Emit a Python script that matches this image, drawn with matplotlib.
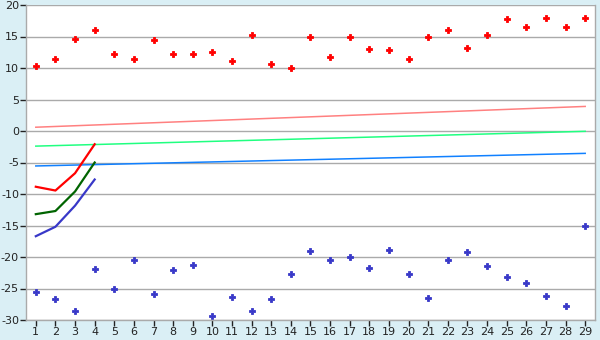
import matplotlib.pyplot as plt

plt.rcParams['axes.unicode_minus'] = False

# categories on the x axis
days = list(range(1, 30))

# scatter series
red_pts = [10.3, 11.5, 14.6, 16.0, 12.2, 11.5, 14.4, 12.3, 12.2, 12.5,
           11.1, 15.2, 10.6, 9.95, 14.9, 11.7, 14.9, 13.0, 12.8, 11.5,
           15.0, 16.1, 13.1, 15.2, 17.7, 16.5, 17.9, 16.5, 17.9]
blue_pts = [-25.6, -26.7, -28.6, -21.95, -25.1, -20.5, -25.9, -22.1, -21.3, -29.4,
            -26.4, -28.5, -26.7, -22.75, -19.1, -20.5, -20.05, -21.8, -18.95, -22.75,
            -26.55, -20.5, -19.25, -21.5, -23.2, -24.2, -26.25, -27.8, -15.0]

# short curves over the first four days
curve_x = [1, 2, 3, 4]
red_curve = [-8.85, -9.45, -6.7, -2.1]
green_curve = [-13.2, -12.7, -9.6, -5.0]
blue_curve = [-16.7, -15.2, -11.85, -7.7]

# straight trend lines (start / end values)
trend_x = [1, 29]
pink_trend = [0.6, 3.9]
green_trend = [-2.4, -0.05]
blue_trend = [-5.55, -3.55]

yticks = list(range(-30, 21, 5))

bg = '#daeff5'
grid = '#aaaaaa'

fig = plt.figure(figsize=(6, 3.4), dpi=100, facecolor=bg)
ax = fig.add_axes([26 / 600, 1 - 320 / 340, (595 - 26) / 600, 315 / 340])
ax.set_facecolor('white')

ax.plot(trend_x, pink_trend, color='#ff8080', lw=1.1)
ax.plot(trend_x, green_trend, color='#20ff80', lw=1.1)
ax.plot(trend_x, blue_trend, color='#1080ff', lw=1.1)

ax.plot(curve_x, red_curve, color='#ff0000', lw=1.6)
ax.plot(curve_x, green_curve, color='#006400', lw=1.6)
ax.plot(curve_x, blue_curve, color='#3838c8', lw=1.6)

ax.plot(days, red_pts, 'P', color='#ff0000', ms=5, mew=0.6, ls='none')
ax.plot(days, blue_pts, 'P', color='#3838c8', ms=5, mew=0.6, ls='none')

ax.set_xlim(0.5, 29.5)
ax.set_ylim(-30, 20)
ax.set_xticks(days)
ax.set_yticks(yticks)
ax.grid(axis='y', color=grid, lw=1.0)
ax.set_axisbelow(True)

for s in ['left', 'bottom', 'right']:
    ax.spines[s].set_color(grid)
    ax.spines[s].set_linewidth(1.0)
ax.spines['top'].set_visible(False)

ax.tick_params(axis='both', colors='#222222', labelsize=8, width=1, length=4)
ax.tick_params(axis='x', pad=1, length=4)
ax.tick_params(axis='y', pad=1)

fig.savefig('out.png', dpi=100, facecolor=bg)
